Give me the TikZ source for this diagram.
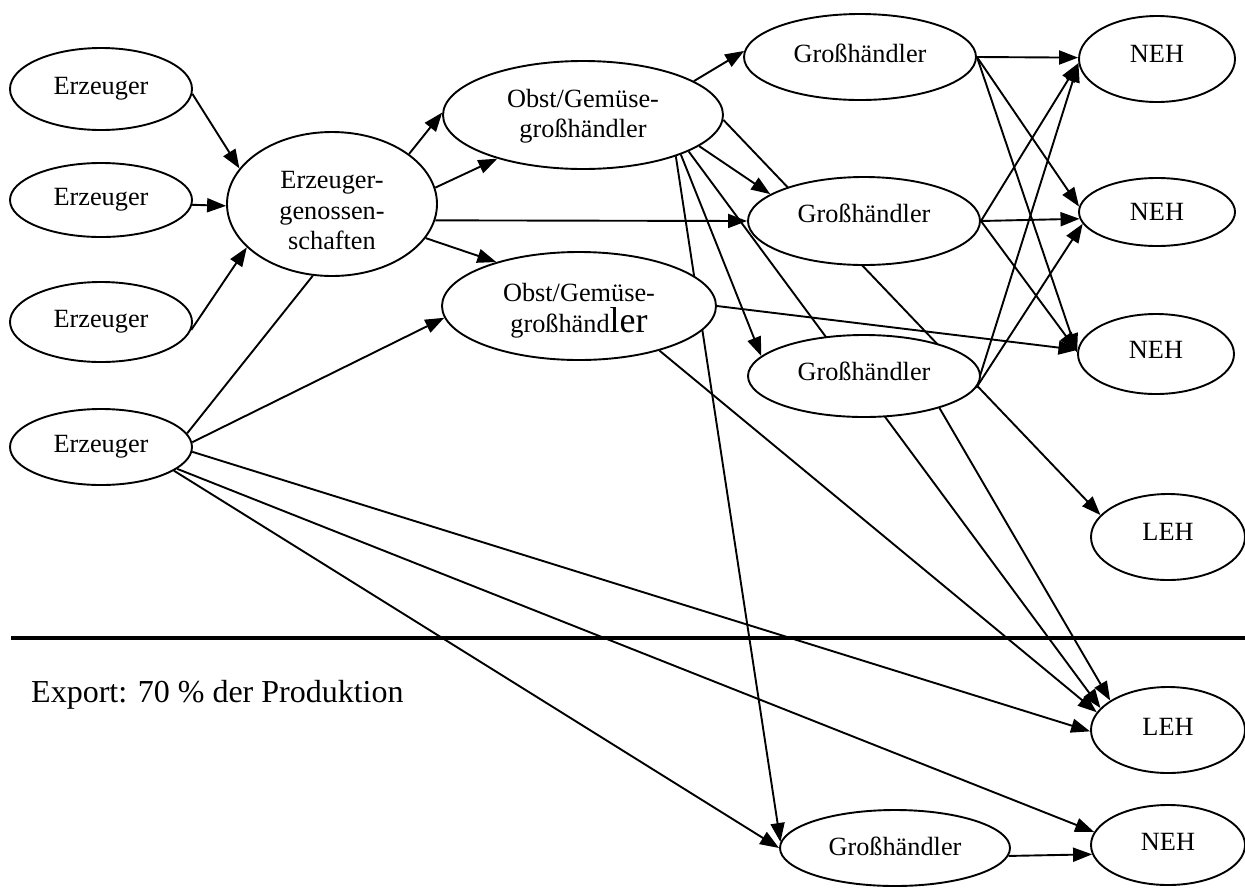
\documentclass[tikz,border=0pt]{standalone}
\usepackage{fontspec}
\setmainfont{Liberation Serif}
\usetikzlibrary{shapes.geometric,arrows.meta}
\pgfdeclarelayer{background}
\pgfsetlayers{background,main}
\begin{document}
\begin{tikzpicture}[x=1pt,y=-1pt,
  box/.style={ellipse,draw,line width=1.9pt,fill=white,inner sep=0pt,align=center,
              font=\fontsize{26.3}{30.5}\selectfont},
  up/.style={text depth=#1},
  arr/.style={line width=1.9pt,-{Triangle[length=19pt,width=14pt]}},
  ln/.style={line width=1.9pt}]
\useasboundingbox (0,0) rectangle (1245,887);
% producers
\node[box,minimum width=182pt,minimum height=82pt] (e1) at (101,89) {Erzeuger};
\node[box,minimum width=182pt,minimum height=74pt] (e2) at (101,200) {Erzeuger};
\node[box,minimum width=182pt,minimum height=80pt] (e3) at (101,322) {Erzeuger};
\node[box,minimum width=182pt,minimum height=76pt] (e4) at (101,447) {Erzeuger};
% cooperative
\node[box,minimum width=210pt,minimum height=144pt] (gen) at (332,204) {\rule{0pt}{31pt}Erzeuger-\\genossen-\\schaften};
% wholesalers fruit/veg
\node[box,minimum width=280pt,minimum height=108pt] (og1) at (583,115) {\rule{0pt}{21pt}Obst/Gemüse-\\großhändler};
\node[box,minimum width=274pt,minimum height=108pt,font=\fontsize{26.3}{31}\selectfont] (og2) at (579,306) {\rule{0pt}{28pt}Obst/Gemüse-\\großhänd{\fontsize{36}{31}\selectfont ler}};
% wholesalers
\node[box,minimum width=232pt,minimum height=86pt,up=8pt] (g1) at (860,57) {Großhändler};
\node[box,minimum width=232pt,minimum height=88pt,up=16pt] (g2) at (864,221) {Großhändler};
\node[box,minimum width=232pt,minimum height=82pt,up=10pt] (g3) at (864,376) {Großhändler};
\node[box,minimum width=230pt,minimum height=76pt,up=4pt] (g4) at (895,848) {Großhändler};
% retail
\node[box,minimum width=156pt,minimum height=86pt,up=11pt] (neh1) at (1157,59) {NEH};
\node[box,minimum width=156pt,minimum height=68pt,up=1pt] (neh2) at (1157,212) {NEH};
\node[box,minimum width=156pt,minimum height=80pt,up=9pt] (neh3) at (1156,354) {NEH};
\node[box,minimum width=154pt,minimum height=86pt,up=11pt] (leh1) at (1168,537) {LEH};
\node[box,minimum width=154pt,minimum height=86pt,up=7pt] (leh2) at (1168,730) {LEH};
\node[box,minimum width=154pt,minimum height=80pt,up=7pt] (neh4) at (1168,845) {NEH};
% the descender of the g in the lower "großhändler" is cut off in the original
\fill[white] (506,337.5) rectangle (530,346);
% separator and label
\draw[line width=4pt] (11,638) -- (1245,638);
\node[anchor=base west,inner sep=0pt,font=\fontsize{32}{38}\selectfont] (exp) at (31,702) {Export: 70 \% der Produktion};
\begin{pgfonlayer}{background}
\draw[arr] (e1.-3) -- (gen.159);
\draw[arr] (e2.-3) -- (gen.181);
\draw[arr] (e3.-5) -- (gen.207);
\draw[ln] (e4.9) -- (gen.255);
\draw[arr] (e4.3) -- (og2.185);
\draw[arr] (e4.-3) -- (leh2.181);
\draw[arr] (e4.-16) -- (neh4.170);
\draw[arr] (e4.-18) -- (g4.180);
\draw[arr] (gen.33) -- (og1.179);
\draw[arr] (gen.9) -- (og1.207);
\draw[arr] (gen.-9) -- (g2.180);
\draw[arr] (gen.-20) -- (og2.152);
\draw[arr] (og1.17) -- (g1.177);
\draw[arr] (og1.-2) -- (leh1.162);
\draw[arr] (og1.-15) -- (g2.164);
\draw[arr] (og1.-19) -- (leh2.162);
\draw[arr] (og1.-22) -- (g3.169);
\draw[arr] (og1.-24) -- (g4.177);
\draw[arr] (og2.0) -- (neh3.177);
\draw[arr] (og2.-29) -- (leh2.166);
\draw[arr] (g1.0) -- (neh1.179);
\draw[arr] (g1.0) -- (neh2.176);
\draw[arr] (g1.0) -- (neh3.179);
\draw[arr] (g2.0) -- (neh1.183);
\draw[arr] (g2.0) -- (neh2.185);
\draw[arr] (g2.0) -- (neh3.178);
\draw[arr] (g3.-6) -- (neh1.183);
\draw[arr] (g3.-6) -- (neh2.189);
\draw[arr] (g3.-23) -- (leh2.153);
\draw[arr] (g4.-4) -- (neh4.187);
\end{pgfonlayer}
\end{tikzpicture}
\end{document}
